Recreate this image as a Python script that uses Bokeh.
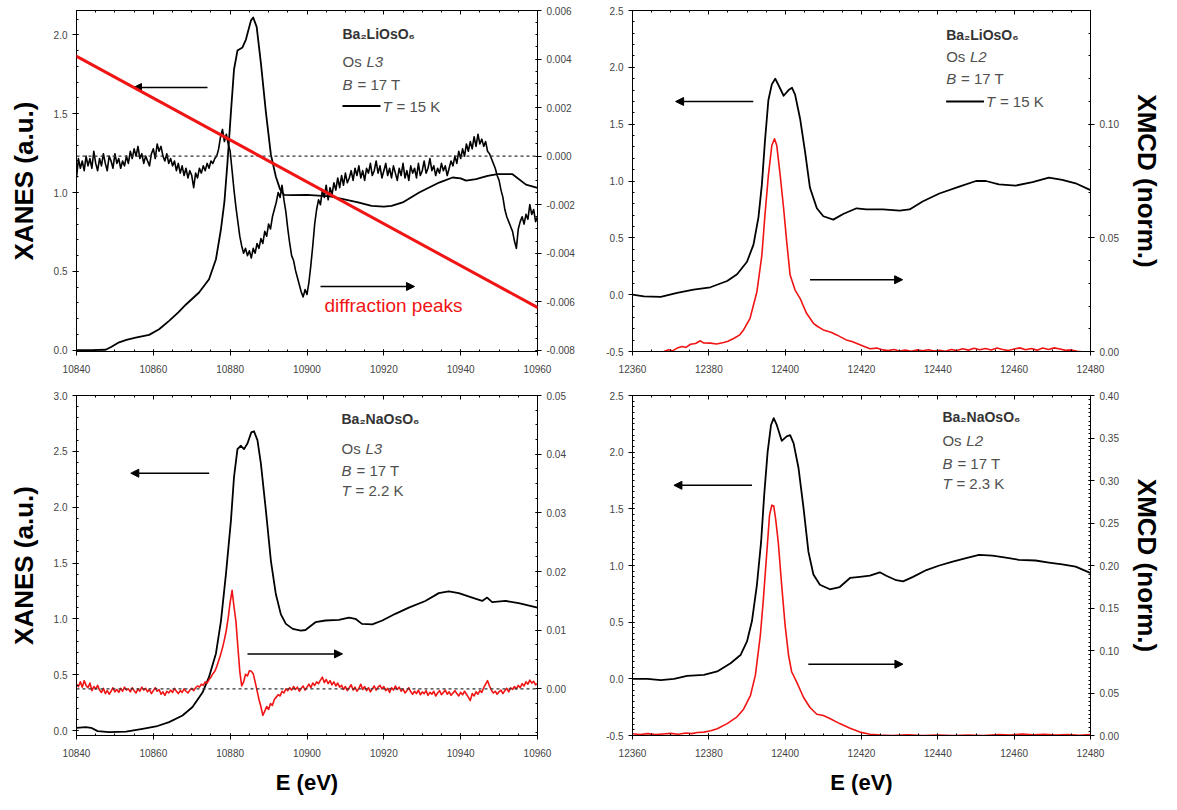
import numpy as np
from bokeh.plotting import figure
from bokeh.models import (Range1d, LinearAxis, SingleIntervalTicker, NumeralTickFormatter,
                          Label, Arrow, NormalHead, Span)
from bokeh.layouts import column, row
from bokeh.embed import file_html
from bokeh.resources import INLINE

FONT = "Liberation Sans"
RED = "#f01414"

# ---------------- data ----------------
# Ba2LiOsO6, Os L3
li_l3_e = [10840, 10844, 10847.6, 10849, 10851.1, 10853, 10855.4, 10858.9, 10861.5, 10864.1, 10866.5,
           10868.5, 10871.9, 10874.5, 10876.3, 10877.6, 10878.5, 10879.3, 10880.2, 10881.0, 10881.9,
           10883.2, 10884.1, 10885.4, 10886.0, 10886.9, 10888.0, 10889.3, 10890.6, 10891.9, 10893.0,
           10894.0, 10896, 10900, 10903, 10906, 10910, 10913.3, 10916.8, 10920, 10922, 10924.9,
           10929.2, 10934.4, 10937.9, 10940, 10941.4, 10944, 10947, 10949.6, 10953.5, 10957, 10960]
li_l3_xanes = [0.0, 0.0, 0.003, 0.02, 0.05, 0.065, 0.08, 0.097, 0.133, 0.186, 0.24,
               0.29, 0.366, 0.45, 0.577, 0.767, 0.94, 1.19, 1.51, 1.78, 1.90,
               1.92, 1.97, 2.09, 2.11, 2.05, 1.82, 1.51, 1.24, 1.10, 1.02,
               0.985, 0.983, 0.985, 0.98, 0.975, 0.955, 0.937, 0.915, 0.91, 0.915, 0.937,
               1.0, 1.063, 1.095, 1.09, 1.075, 1.085, 1.105, 1.116, 1.116, 1.05, 1.03]
li_l3_xmcd_start = 10840
li_l3_xmcd_step = 0.5
li_l3_xmcd_e4 = [  # XMCD in units of 1e-4
    -9, -1, -5, -2, -6, 0, -4, -1, -5, 2, -3, -6, -1, -4, 1, -3, -6, 0, -2, -5,
    1, -3, -1, -5, -2, -4, 0, -3, 2, -1, 3, 0, 4, -1, 1, -3, 0, -2, -4, 1,
    3, -1, 5, 2, 4, 0, -2, 1, -3, -1, -4, -2, -6, -3, -7, -4, -8, -5, -9, -6,
    -8, -13, -7, -9, -5, -7, -4, -6, -3, -5, -2, -3, -1, 0, 3, 8, 11, 6, 9, 5,
    2, -6, -14, -21, -27, -33, -37, -40, -38, -41, -39, -42, -38, -40, -36, -38, -34, -36, -31, -33,
    -28, -30, -25, -22, -19, -15, -17, -12, -18, -23, -30, -36, -41, -43, -47, -50, -53, -56, -58, -55,
    -57, -52, -45, -37, -28, -22, -18, -20, -14, -17, -12, -18, -13, -16, -11, -14, -9, -13, -8, -12,
    -7, -11, -9, -6, -10, -5, -8, -4, -9, -6, -10, -5, -7, -3, -8, -6, -2, -7, -4, -9,
    -6, -3, -8, -5, -9, -4, -7, -10, -5, -8, -3, -9, -6, -10, -4, -7, -5, -9, -3, -8,
    -6, -2, -7, -5, -1, -6, -4, -8, -5, -7, -3, -6, -4, -8, -5, -2, -4, 0, -3, 2,
    -1, 3, 0, 5, 2, 6, 3, 8, 4, 9, 5, 7, 4, 6, 2, 1, -1, -3, -5, -8,
    -10, -14, -17, -22, -25, -27, -29, -31, -35, -38, -30, -27, -25, -28, -24, -26, -20, -24, -22, -27,
    -25]

# Ba2LiOsO6, Os L2
li_l2_e = [12360, 12363, 12367.4, 12371.7, 12376, 12380.4, 12384.8, 12387.4, 12390, 12391.7, 12393,
           12393.9, 12394.7, 12395.6, 12396.5, 12397.4, 12398.3, 12399.6, 12400.9, 12401.8, 12402.6,
           12403.9, 12405.2, 12406.5, 12408.3, 12410, 12412.6, 12415.2, 12418.7, 12421.3, 12425.6,
           12430, 12432.6, 12436, 12440.4, 12445.6, 12450, 12452.6, 12456, 12460.4, 12464.8,
           12469.1, 12472.6, 12476.1, 12480]
li_l2_xanes = [0.0, -0.015, -0.02, 0.015, 0.045, 0.065, 0.12, 0.18, 0.29, 0.44, 0.68,
               0.97, 1.35, 1.71, 1.85, 1.90, 1.84, 1.75, 1.80, 1.82, 1.76,
               1.55, 1.26, 0.94, 0.76, 0.69, 0.66, 0.71, 0.76, 0.75, 0.75,
               0.74, 0.75, 0.82, 0.89, 0.95, 1.0, 1.0, 0.97, 0.96, 0.99,
               1.03, 1.01, 0.98, 0.92]
li_l2_xmcd_e = [12368.2, 12369.5, 12370.5, 12371.7, 12373, 12374, 12375.2, 12376.5, 12377.8, 12378.6,
                12380.4, 12382, 12383.9, 12385, 12386.5, 12388, 12389.1, 12390.8, 12392.6, 12393.9,
                12394.7, 12395.6, 12396.5, 12397.2, 12397.8, 12398.7, 12399.6, 12400.4, 12401.3, 12402.6,
                12403.9, 12405.6, 12407.4, 12408.5, 12410, 12412, 12413.5, 12416, 12417.5, 12419.6,
                12422.2, 12424, 12425.6, 12427, 12428.5, 12430, 12431.5, 12433, 12434.5, 12436,
                12437.5, 12439, 12440.5, 12442, 12443.5, 12445, 12446.5, 12448, 12449.5, 12451,
                12452.5, 12454, 12455.5, 12457, 12458.5, 12460, 12461.5, 12463, 12464.5, 12466,
                12467.5, 12469, 12470.5, 12472, 12473.5, 12475, 12476.5, 12477.5]
li_l2_xmcd = [0.0, 0.0008, 0.0003, 0.0015, 0.0022, 0.0018, 0.0032, 0.0035, 0.0047, 0.0038,
              0.0037, 0.0033, 0.004, 0.0045, 0.0057, 0.0072, 0.0095, 0.0146, 0.0263, 0.0424,
              0.06, 0.0775, 0.0906, 0.0936, 0.0906, 0.0775, 0.0629, 0.0483, 0.0336, 0.027,
              0.0234, 0.0168, 0.0124, 0.011, 0.0095, 0.0085, 0.0073, 0.0051, 0.0044, 0.003,
              0.0012, 0.0015, 0.0007, 0.0004, 0.0009, 0.0002, 0.0006, 0.0001, 0.0007, 0.0003,
              0.0008, 0.0002, 0.0005, 0.0001, 0.0009, 0.0004, 0.0012, 0.0006, 0.0014, 0.0008,
              0.0013, 0.0007, 0.0015, 0.0009, 0.0004, 0.0011, 0.0016, 0.0008, 0.0013, 0.0006,
              0.0015, 0.0009, 0.0016, 0.0011, 0.0005, 0.0007, 0.0001, 0.0]

# Ba2NaOsO6, Os L3
na_l3_e = [10840, 10842.4, 10843.8, 10845.5, 10848.5, 10852.9, 10857.2, 10860.7, 10864.1, 10867.6,
           10870.2, 10872.8, 10874.5, 10876.3, 10877.6, 10878.9, 10880.2, 10881.0, 10881.9, 10882.8,
           10883.6, 10884.5, 10885.5, 10886.2, 10887.1, 10888.0, 10889.3, 10890.6, 10891.9, 10893.2,
           10894.5, 10896.3, 10898.4, 10899.6, 10902.2, 10904.8, 10908.3, 10910.9, 10912.6, 10914.3,
           10917.0, 10919.6, 10923.0, 10926.5, 10930.8, 10934.3, 10936.9, 10939.5, 10943.0, 10945.6,
           10946.9, 10948.2, 10951.7, 10955.1, 10960]
na_l3_xanes = [0.024, 0.03, 0.024, -0.006, -0.015, -0.01, 0.015, 0.036, 0.075, 0.134,
               0.21, 0.34, 0.48, 0.69, 0.98, 1.40, 1.88, 2.27, 2.52, 2.55,
               2.52, 2.57, 2.67, 2.68, 2.60, 2.39, 1.97, 1.52, 1.22, 1.04,
               0.955, 0.91, 0.895, 0.90, 0.97, 0.985, 0.99, 1.01, 1.0, 0.955,
               0.95, 0.985, 1.045, 1.10, 1.16, 1.23, 1.245, 1.23, 1.19, 1.16,
               1.19, 1.15, 1.16, 1.14, 1.10]
na_l3_xmcd_start = 10840
na_l3_xmcd_step = 0.5
na_l3_xmcd_e4 = [  # XMCD in units of 1e-4
    8, 4, 12, 3, 14, 6, 2, 10, -3, 4, 0, 6, -2, -6, 1, -8, -3, -9, -4, 2,
    -5, -1, -6, 1, -4, 3, -2, 0, -5, 2, -3, -7, 0, -4, 3, -2, 1, -5, -1, -8,
    -3, 2, -4, -1, -9, -5, -11, -4, -7, -2, -6, 1, -4, -8, -3, -6, 0, -4, -7, -2,
    1, -3, 2, 5, 3, 8, 6, 12, 10, 16, 20, 26, 30, 38, 48, 58, 70, 84, 100, 122,
    148, 168, 140, 115, 72, 30, 5, 12, 25, 22, 31, 30, 26, 12, -3, -18, -30, -45, -38, -30,
    -35, -25, -28, -18, -14, -10, -12, -4, -7, 0, -3, 2, -2, 4, -1, 3, -4, 1, 5, -2,
    3, 8, 2, 10, 6, 12, 9, 15, 20, 11, 16, 9, 14, 7, 12, 5, 10, 3, 6, -1,
    4, -3, 2, 7, -2, 3, -4, 1, 8, -1, 4, -3, 2, -5, 0, 5, -2, 3, 6, 0,
    4, -3, 1, -6, 2, -2, 5, -1, 3, -4, 0, -7, -3, 2, -5, -9, -4, -8, -2, -10,
    -5, -8, -3, -11, -6, -9, -4, -12, -7, -3, -10, -6, -2, -9, -5, -11, -7, -3, -8, -12,
    -6, -10, -4, -9, -14, -20, -8, -12, -5, -9, -3, -6, 2, 8, 14, 5, -2, -7, -4, -9,
    -5, -2, -8, -3, 1, -5, 2, -1, 4, 0, 6, 2, 9, 5, 12, 8, 15, 10, 13, 7,
    9]

# Ba2NaOsO6, Os L2
na_l2_e = [12360, 12363.9, 12367.4, 12370.9, 12374.3, 12378.7, 12382.2, 12385.7, 12388.3, 12390,
           12391.3, 12392.6, 12393.7, 12394.5, 12395.4, 12396.3, 12397, 12397.8, 12399.1, 12400.4,
           12401.3, 12402.2, 12403.5, 12404.8, 12406.1, 12407.4, 12409.1, 12411.7, 12414.3, 12417,
           12419.6, 12422.2, 12424.8, 12426.5, 12429.1, 12430.9, 12433.5, 12437, 12440.4, 12443.9,
           12447.4, 12450.8, 12454.3, 12457.8, 12461.2, 12465.6, 12469.1, 12472.6, 12476.1, 12479.6, 12480]
na_l2_xanes = [0.0, 0.0, -0.012, 0.0, 0.026, 0.035, 0.065, 0.138, 0.21, 0.33,
               0.51, 0.83, 1.21, 1.62, 2.0, 2.24, 2.30, 2.24, 2.10, 2.14,
               2.15, 2.08, 1.86, 1.51, 1.12, 0.92, 0.83, 0.79, 0.81, 0.89,
               0.90, 0.91, 0.94, 0.91, 0.87, 0.86, 0.90, 0.96, 1.0, 1.035,
               1.065, 1.094, 1.088, 1.07, 1.05, 1.044, 1.026, 1.01, 0.99, 0.94, 0.935]
na_l2_xmcd_e = [12360, 12362, 12364, 12366, 12368, 12370, 12372, 12374, 12375.5, 12377,
                12378.7, 12380.5, 12382.2, 12384.8, 12387.4, 12389.1, 12390.9, 12392.2, 12393.5, 12394.3,
                12395.2, 12395.9, 12396.5, 12397, 12397.5, 12398.2, 12399.1, 12400, 12400.9, 12401.7,
                12403, 12404.8, 12406.5, 12408.3, 12410, 12411.7, 12414.3, 12417, 12419.6, 12422.2,
                12425, 12428, 12432, 12436, 12440, 12444, 12448, 12452, 12456, 12459,
                12462, 12465, 12468, 12471, 12474, 12477, 12480]
na_l2_xmcd = [0.002, 0.0012, 0.0022, 0.001, 0.0018, 0.0025, 0.0015, 0.003, 0.0022, 0.0035,
              0.004, 0.0055, 0.008, 0.014, 0.022, 0.031, 0.047, 0.071, 0.118, 0.161,
              0.216, 0.259, 0.271, 0.27, 0.255, 0.227, 0.176, 0.129, 0.094, 0.075,
              0.063, 0.045, 0.033, 0.025, 0.0235, 0.020, 0.014, 0.0085, 0.004, 0.0015,
              0.0005, 0.0, 0.0008, 0.0, 0.0004, 0.0, 0.0006, 0.0, 0.0012, 0.0005,
              0.0018, 0.0008, 0.0015, 0.0006, 0.0012, 0.0003, 0.001]

# ---------------- helpers ----------------

def style_axis(ax, label_size="26px"):
    ax.axis_line_color = "black"
    ax.axis_line_width = 1
    ax.major_tick_line_color = "black"
    ax.minor_tick_line_color = "black"
    ax.major_tick_out = 4
    ax.major_tick_in = 2
    ax.minor_tick_out = 0
    ax.minor_tick_in = 2
    ax.major_label_text_font = FONT
    ax.major_label_text_font_size = "10px"
    ax.major_label_text_color = "#444444"
    ax.axis_label_text_font = FONT
    ax.axis_label_text_font_size = label_size
    ax.axis_label_text_font_style = "bold"
    ax.axis_label_text_color = "black"


def make_panel(xr, yl, yr, fw, fh, borders, yl_int, yl_minor, yr_int, yr_minor, yr_fmt,
               left_label=None, right_label=None, x_label=None):
    bl, br, bt, bb = borders
    p = figure(frame_width=fw, frame_height=fh, x_range=Range1d(*xr), y_range=Range1d(*yl),
               min_border_left=bl, min_border_right=br, min_border_top=bt, min_border_bottom=bb,
               toolbar_location=None, output_backend="svg",
               background_fill_color="white", border_fill_color="white")
    p.xgrid.visible = False
    p.ygrid.visible = False
    p.outline_line_color = "black"
    p.outline_line_width = 1
    p.extra_y_ranges = {"r": Range1d(*yr)}

    p.xaxis.ticker = SingleIntervalTicker(interval=20, num_minor_ticks=4)
    p.xaxis.formatter = NumeralTickFormatter(format="0")
    style_axis(p.xaxis[0], label_size="22px")
    p.xaxis.major_label_standoff = 9
    if x_label:
        p.xaxis.axis_label = x_label
        p.xaxis.axis_label_standoff = 10

    p.yaxis.ticker = SingleIntervalTicker(interval=yl_int, num_minor_ticks=yl_minor)
    p.yaxis.formatter = NumeralTickFormatter(format="0.0")
    style_axis(p.yaxis[0])
    if left_label:
        p.yaxis.axis_label = left_label
        p.yaxis.axis_label_standoff = 12

    rax = LinearAxis(y_range_name="r",
                     ticker=SingleIntervalTicker(interval=yr_int, num_minor_ticks=yr_minor),
                     formatter=NumeralTickFormatter(format=yr_fmt))
    style_axis(rax)
    if right_label:
        rax.axis_label = right_label
        rax.axis_label_standoff = 10
    p.add_layout(rax, "right")

    tax = LinearAxis(ticker=SingleIntervalTicker(interval=20, num_minor_ticks=4))
    style_axis(tax)
    tax.major_label_text_font_size = "0px"
    tax.major_label_text_alpha = 0
    tax.major_label_standoff = 0
    tax.major_tick_out = 0
    tax.major_tick_in = 4
    tax.minor_tick_in = 2
    p.add_layout(tax, "above")
    return p


def mapper(px_a, xa, px_b, xb):
    return lambda px: xa + (px - px_a) * (xb - xa) / (px_b - px_a)


def text(p, x, y, s, size="15px", color="#505050", style="normal"):
    p.add_layout(Label(x=x, y=y, text=s, text_font=FONT, text_font_size=size,
                       text_color=color, text_font_style=style,
                       text_baseline="middle", text_align="left"))


def arrow(p, x0, y0, x1, y1, head=True, color="black", width=1.5):
    p.add_layout(Arrow(x_start=x0, y_start=y0, x_end=x1, y_end=y1,
                       end=NormalHead(size=8, fill_color=color, line_color=color) if head else None,
                       line_color=color, line_width=width))


def info_block(p, fx, fy, x, ys, formula, edge, temp, legend_line=False):
    text(p, fx(x), fy(ys[0]), formula, size="14px", color="#333333", style="bold")
    text(p, fx(x), fy(ys[1]), "Os")
    text(p, fx(x + 24), fy(ys[1]), edge, style="italic")
    text(p, fx(x), fy(ys[2]), "B", style="italic")
    text(p, fx(x + 15), fy(ys[2]), "= 17 T")
    tx = x
    if legend_line:
        arrow(p, fx(x), fy(ys[3]), fx(x + 38), fy(ys[3]), head=False, width=2)
        tx = x + 40
    text(p, fx(tx), fy(ys[3]), "T", style="italic")
    text(p, fx(tx + 14), fy(ys[3]), "= " + temp)


# ---------------- panel: Ba2LiOsO6 L3 ----------------
fx = mapper(84, 10840, 545, 10960)
fy = mapper(357.7, 0.0, 42.3, 2.0)
p1 = make_panel((10840, 10960), (fy(359), fy(18)), (-0.00805, 0.006), 461, 341, (76, 43, 10, 31),
                0.5, 5, 0.002, 4, "0.000", left_label="XANES (a.u.)")
p1.add_layout(Span(location=0, dimension="width", y_range_name="r", line_color="#333333",
                   line_dash="3 3", line_width=1.2))
p1.line(li_l3_e, li_l3_xanes, line_color="black", line_width=1.8, line_join="round")
li_l3_xe = li_l3_xmcd_start + li_l3_xmcd_step * np.arange(len(li_l3_xmcd_e4))
p1.line(li_l3_xe, np.array(li_l3_xmcd_e4) * 1e-4, y_range_name="r", line_color="black",
        line_width=1.6, line_join="round")
arrow(p1, fx(215), fy(95), fx(141), fy(95))
arrow(p1, fx(328), fy(294), fx(422), fy(294))
info_block(p1, fx, fy, 350, [41.5, 69, 91.5, 113.5], "Ba₂LiOsO₆", "L3", "15 K", legend_line=True)
arrow(p1, fx(27), fy(32.7), fx(592), fy(340.6), head=False, color=RED, width=3)
text(p1, fx(332), fy(313), "diffraction peaks", size="19px", color=RED)

# ---------------- panel: Ba2LiOsO6 L2 ----------------
fx = mapper(641.7, 12360, 1101.7, 12480)
fy = mapper(303.3, 0.0, 75.0, 2.0)
p2 = make_panel((12360, 12480), (-0.5, 2.5), (0.0, 0.15), 458, 341, (52, 69, 10, 31),
                0.5, 5, 0.05, 5, "0.00", right_label="XMCD (norm.)")
p2.line(li_l2_e, li_l2_xanes, line_color="black", line_width=1.8, line_join="round")
p2.line(li_l2_xmcd_e, li_l2_xmcd, y_range_name="r", line_color=RED, line_width=1.6, line_join="round")
arrow(p2, fx(763), fy(109.3), fx(685), fy(109.3))
arrow(p2, fx(820), fy(288.3), fx(913), fy(288.3))
info_block(p2, fx, fy, 956.7, [43, 64, 86.5, 109.3], "Ba₂LiOsO₆", "L2", "15 K", legend_line=True)

# ---------------- panel: Ba2NaOsO6 L3 ----------------
fx = mapper(84, 10840, 545, 10960)
fy = mapper(738.3, 0.0, 403.3, 3.0)
p3 = make_panel((10840, 10960), (fy(743.3), 3.0), (-0.00794, 0.05), 461, 340, (76, 43, 13, 59),
                0.5, 5, 0.01, 4, "0.00", left_label="XANES (a.u.)", x_label="E (eV)")
p3.add_layout(Span(location=0, dimension="width", y_range_name="r", line_color="#333333",
                   line_dash="3 3", line_width=1.2))
p3.line(na_l3_e, na_l3_xanes, line_color="black", line_width=1.8, line_join="round")
na_l3_xe = na_l3_xmcd_start + na_l3_xmcd_step * np.arange(len(na_l3_xmcd_e4))
p3.line(na_l3_xe, np.array(na_l3_xmcd_e4) * 1e-4, y_range_name="r", line_color=RED,
        line_width=1.6, line_join="round")
arrow(p3, fx(216.7), fy(481), fx(138.3), fy(481))
arrow(p3, fx(255), fy(661.7), fx(350), fy(661.7))
info_block(p3, fx, fy, 349, [426.7, 456.7, 478.3, 498.3], "Ba₂NaOsO₆", "L3", "2.2 K")

# ---------------- panel: Ba2NaOsO6 L2 ----------------
fx = mapper(641.7, 12360, 1101.7, 12480)
fy = mapper(689.0, 0.0, 405.0, 2.5)
p4 = make_panel((12360, 12480), (-0.5, 2.5), (0.0, 0.40), 458, 340, (52, 69, 13, 59),
                0.5, 10, 0.05, 10, "0.00", right_label="XMCD (norm.)", x_label="E (eV)")
p4.line(na_l2_e, na_l2_xanes, line_color="black", line_width=1.8, line_join="round")
p4.line(na_l2_xmcd_e, na_l2_xmcd, y_range_name="r", line_color=RED, line_width=1.6, line_join="round")
arrow(p4, fx(761.7), fy(495), fx(683.3), fy(495))
arrow(p4, fx(818.3), fy(674.3), fx(913.3), fy(674.3))
info_block(p4, fx, fy, 953, [426.7, 450, 473.3, 493.3], "Ba₂NaOsO₆", "L2", "2.3 K")

layout = column(row(p1, p2), row(p3, p4))
open("out.html", "w").write(file_html(layout, INLINE))
